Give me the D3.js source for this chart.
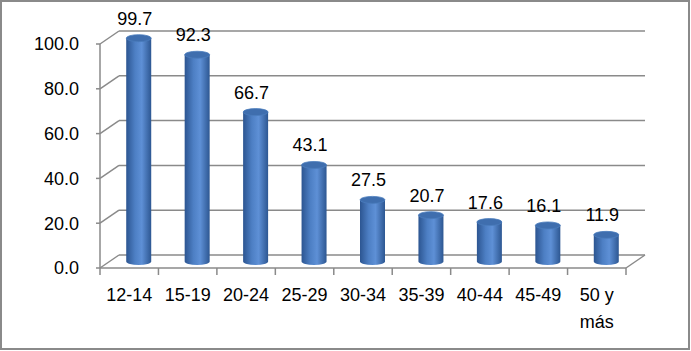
<!DOCTYPE html>
<html>
<head>
<meta charset="utf-8">
<script src="https://cdn.jsdelivr.net/npm/d3@7"></script>
<style>
  body { margin: 0; background: #fff; }
  svg { display: block; font-family: "Liberation Sans", Arial, sans-serif; }
</style>
</head>
<body>
<svg id="chart"></svg>
<script>
// data
const categories = ["12-14", "15-19", "20-24", "25-29", "30-34", "35-39", "40-44", "45-49", "50 y más"];
const values = [99.7, 92.3, 66.7, 43.1, 27.5, 20.7, 17.6, 16.1, 11.9];
const yTicks = [0, 20, 40, 60, 80, 100];

const width = 691;
const height = 351;

const svg = d3.select("#chart")
  .attr("width", width)
  .attr("height", height);

// outer frame
svg.append("rect")
  .attr("x", 1)
  .attr("y", 1)
  .attr("width", width - 3)
  .attr("height", height - 3)
  .attr("fill", "#fff")
  .attr("stroke", "#8a8a8a")
  .attr("stroke-width", 2);

const x = d3.scaleBand()
  .domain(categories)
  .range([100, 626]);

const y = d3.scaleLinear()
  .domain([0, 100])
  .range([268, 44]);

// 3d depth offset of the back wall
const dx = 19, dy = -13;
const gridColor = "#8a8a8a";

const defs = svg.append("defs");
const grad = defs.append("linearGradient")
  .attr("id", "cyl")
  .attr("x1", "0%").attr("x2", "100%")
  .attr("y1", "0%").attr("y2", "0%");
grad.append("stop").attr("offset", "0%").attr("stop-color", "#2c5591");
grad.append("stop").attr("offset", "35%").attr("stop-color", "#4d7fc4");
grad.append("stop").attr("offset", "62%").attr("stop-color", "#5e90d6");
grad.append("stop").attr("offset", "100%").attr("stop-color", "#2d5792");

// back wall gridlines with their diagonal side lines
yTicks.forEach(function(v) {
  svg.append("line")
    .attr("x1", x.range()[0]).attr("y1", y(v))
    .attr("x2", x.range()[0] + dx).attr("y2", y(v) + dy)
    .attr("stroke", gridColor).attr("stroke-width", 1.5);
  svg.append("line")
    .attr("x1", x.range()[0] + dx).attr("y1", y(v) + dy)
    .attr("x2", x.range()[1] + dx).attr("y2", y(v) + dy)
    .attr("stroke", gridColor).attr("stroke-width", 1.5);
  svg.append("line")
    .attr("x1", x.range()[0] - 4).attr("y1", y(v))
    .attr("x2", x.range()[0]).attr("y2", y(v))
    .attr("stroke", gridColor).attr("stroke-width", 1.5);
  svg.append("text")
    .attr("x", 79)
    .attr("y", y(v))
    .attr("dy", "0.36em")
    .attr("text-anchor", "end")
    .attr("font-size", "18px")
    .attr("fill", "#000")
    .text(d3.format(".1f")(v));
});

// floor front edge and right side
svg.append("line")
  .attr("x1", x.range()[0]).attr("y1", y(0))
  .attr("x2", x.range()[1]).attr("y2", y(0))
  .attr("stroke", gridColor).attr("stroke-width", 1.5);
svg.append("line")
  .attr("x1", x.range()[1]).attr("y1", y(0))
  .attr("x2", x.range()[1] + dx).attr("y2", y(0) + dy)
  .attr("stroke", gridColor).attr("stroke-width", 1.5);

// value axis line
svg.append("line")
  .attr("x1", x.range()[0]).attr("y1", y(100))
  .attr("x2", x.range()[0]).attr("y2", y(0))
  .attr("stroke", gridColor).attr("stroke-width", 1.5);

// category ticks
const bounds = categories.map(c => x(c)).concat([x.range()[1]]);
bounds.forEach(function(b) {
  svg.append("line")
    .attr("x1", b).attr("y1", y(0))
    .attr("x2", b).attr("y2", y(0) + 7)
    .attr("stroke", gridColor).attr("stroke-width", 1.5);
});

// category labels
categories.forEach(function(c) {
  const words = c === "50 y más" ? ["50 y", "más"] : [c];
  const t = svg.append("text")
    .attr("x", x(c) + x.bandwidth() / 2)
    .attr("y", 301)
    .attr("text-anchor", "middle")
    .attr("font-size", "18px")
    .attr("fill", "#000");
  words.forEach(function(w, i) {
    t.append("tspan")
      .attr("x", x(c) + x.bandwidth() / 2)
      .attr("dy", i === 0 ? 0 : 27)
      .text(w);
  });
});

// cylinders, placed half way into the depth
const rx = 12.5, ry = 3.5;
categories.forEach(function(c, i) {
  const cx = x(c) + x.bandwidth() / 2 + dx / 2;
  const yTop = y(values[i]) + dy / 2;
  const yBot = y(0) + dy / 2;
  svg.append("path")
    .attr("d", `M${cx - rx},${yTop} L${cx - rx},${yBot} A${rx},${ry} 0 0 0 ${cx + rx},${yBot} L${cx + rx},${yTop} Z`)
    .attr("fill", "url(#cyl)");
  svg.append("ellipse")
    .attr("cx", cx)
    .attr("cy", yTop)
    .attr("rx", rx)
    .attr("ry", ry)
    .attr("fill", "#3f6eae")
    .attr("stroke", "#4a7cbd")
    .attr("stroke-width", 0.8);
  svg.append("text")
    .attr("x", cx - 4)
    .attr("y", yTop - ry - 10)
    .attr("text-anchor", "middle")
    .attr("font-size", "18px")
    .attr("fill", "#000")
    .text(d3.format(".1f")(values[i]));
});
</script>
</body>
</html>
